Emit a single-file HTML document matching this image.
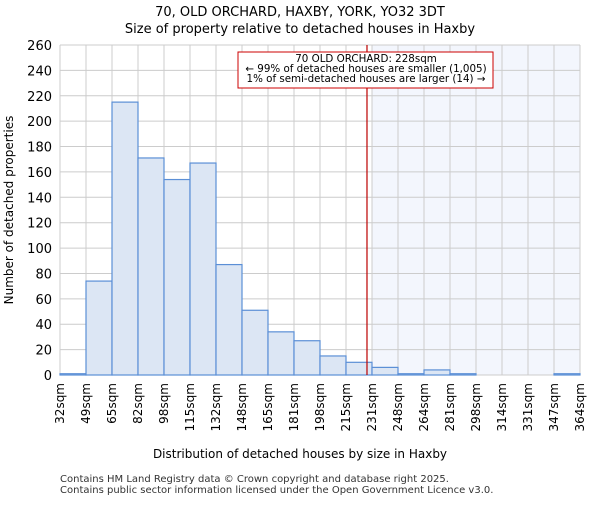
<!DOCTYPE html>
<html><head><meta charset="utf-8"><style>
body{margin:0;background:#fff}
svg{font-family:"DejaVu Sans","Liberation Sans",sans-serif}
</style></head><body>
<svg id="c" width="600" height="500">
<text x="300" y="16" text-anchor="middle" font-size="13">70, OLD ORCHARD, HAXBY, YORK, YO32 3DT</text>
<text x="300" y="33" text-anchor="middle" font-size="13">Size of property relative to detached houses in Haxby</text>
<g id="plot"></g>
<text x="300" y="458" text-anchor="middle" font-size="12">Distribution of detached houses by size in Haxby</text>
<text transform="translate(13,210) rotate(-90)" text-anchor="middle" font-size="12">Number of detached properties</text>
<text x="60" y="482" font-size="10" fill="#333">Contains HM Land Registry data © Crown copyright and database right 2025.</text>
<text x="60" y="493" font-size="10" fill="#333">Contains public sector information licensed under the Open Government Licence v3.0.</text>
</svg>
<script>
const categories=["32sqm","49sqm","65sqm","82sqm","98sqm","115sqm","132sqm","148sqm","165sqm","181sqm","198sqm","215sqm","231sqm","248sqm","264sqm","281sqm","298sqm","314sqm","331sqm","347sqm","364sqm"];
const counts=[1,74,215,171,154,167,87,51,34,27,15,10,6,1,4,1,0,0,0,1];
const yTicks=[0,20,40,60,80,100,120,140,160,180,200,220,240,260];
const markerValue=228;
const binStart=32, binWidth=16.6;
const L=60,R=580,T=45,B=375,yMax=260;
const n=counts.length, bw=(R-L)/n;
const x=i=>L+i*bw;
const y=v=>B-(v/yMax)*(B-T);
const xs=v=>L+(v-binStart)/binWidth*bw;
const NS="http://www.w3.org/2000/svg";
const g=document.getElementById('plot');
function mk(t,a){const e=document.createElementNS(NS,t);for(const k in a)e.setAttribute(k,a[k]);g.appendChild(e);return e;}
const hl=mk('rect',{x:x(12),y:T,width:R-x(12),height:B-T,fill:'#f3f6fd'});


yTicks.forEach(v=>{
 const l=mk('line',{x1:L,x2:R,y1:y(v),y2:y(v),stroke:'#ccc'});
 
 
 const t=mk('text',{x:L-8,y:y(v)+5,'text-anchor':'end','font-size':'13'});
 t.textContent=v;
 
 
});
for(let i=0;i<=n;i++){
 const l=mk('line',{x1:x(i),x2:x(i),y1:T,y2:B,stroke:'#ccc'});
 
 
}
counts.forEach((c,i)=>{
 if(c<=0)return;
 const r=mk('rect',{x:x(i),y:y(c),width:bw,height:B-y(c),fill:'#dce6f4',stroke:'#5b8fd6','stroke-width':1.2});
 
 
});
categories.forEach((c,i)=>{
 const t=mk('text',{transform:`translate(${x(i)+4},${B+8}) rotate(-90)`,'text-anchor':'end','font-size':'12'});
 t.textContent=c;
 
 
});
const ml=mk('line',{x1:xs(markerValue),x2:xs(markerValue),y1:T,y2:B,stroke:'#b00','stroke-width':1.2});


const box=mk('rect',{x:238,y:52,width:255,height:36,fill:'#fff',stroke:'#c00'});


["70 OLD ORCHARD: 228sqm","← 99% of detached houses are smaller (1,005)","1% of semi-detached houses are larger (14) →"].forEach((s,k)=>{
 const t=mk('text',{x:366,y:62+k*10,'text-anchor':'middle','font-size':'10.3'});
 t.textContent=s;
 
 
});
</script>
</body></html>
